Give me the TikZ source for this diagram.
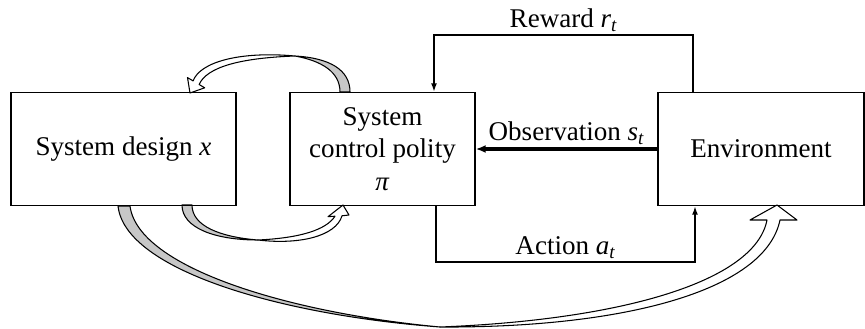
\documentclass[tikz,border=0pt]{standalone}
\usepackage{amsmath}
\usepackage{fontspec}
\setmainfont{Liberation Serif}
\usetikzlibrary{arrows.meta}
\newcommand{\mv}[1]{\textit{#1}}
\tikzstyle{block}=[draw,line width=0.8pt,minimum height=2.26cm,inner sep=2pt,align=center,font=\fontsize{15.4}{18.5}\selectfont]
\tikzstyle{signal}=[draw,line width=1.1pt,-{Latex[length=1.7mm,width=1.2mm]}]
\tikzstyle{thicksignal}=[draw,line width=1.8pt,-{Latex[length=2mm,width=1.6mm]}]
\tikzstyle{sigtext}=[font=\fontsize{15.4}{18.5}\selectfont,inner sep=1.5pt]
\tikzstyle{backface}=[fill=black!22,draw=black,line width=0.6pt,line join=round]
\tikzstyle{frontface}=[fill=white,draw=black,line width=0.6pt,line join=round]

\begin{document}
\begin{tikzpicture}[x=0.02cm,y=-0.02cm]
    \useasboundingbox (0,0) rectangle (865,328);

    % Design loop ribbons first, the blocks go on top
    % policy -> design, over the top
    \draw[backface] (350,92) .. controls (350,70) and (330,58) .. (295,56) .. controls (322,61) and (340,72) .. (340,92) -- cycle;
    \draw[frontface] (295,56) .. controls (240,51) and (200,62) .. (193.1,80.9) -- (187.5,77.6) -- (190,93) -- (204.7,87.8) -- (199.1,84.5) .. controls (207,67) and (240,58) .. (295,56) -- cycle;
    % design -> policy, underneath
    \draw[backface] (182,205) .. controls (182,228) and (215,240) .. (258,240) .. controls (220,237) and (192,226) .. (192,205) -- cycle;
    \draw[frontface] (258,240) .. controls (300,238) and (326,230) .. (335,216.2) -- (328,216.7) -- (343,205) -- (349,215) -- (342,215.8) .. controls (336,236) and (300,245) .. (258,240) -- cycle;
    % design -> environment, the long way round
    \draw[backface] (118,206) .. controls (125,270) and (280,315) .. (440,327) .. controls (290,313) and (138,268) .. (130,206) -- cycle;
    \draw[frontface] (440,327) .. controls (620,320) and (755,282) .. (767,220) -- (750,220) -- (777,205) -- (797,220) -- (780,220) .. controls (765,292) and (620,328) .. (440,327) -- cycle;

    % Then we draw the blocks
    \foreach \pos/\name/\bw/\txt in {{(123.5,149)/design/4.5cm/{System design \mv{x}}}, {(382.5,149)/policy/3.7cm/{System\\control polity\\\mv{π}}}, {(761,149)/env/4.12cm/{Environment}}}
        \node[block,minimum width=\bw] (\name) at \pos {\txt};

    % Corners of the reward and action loops
    \coordinate (rwR) at (693,35);
    \coordinate (rwL) at (434,35);
    \coordinate (acL) at (436,262);
    \coordinate (acR) at (695,262);

    % Connect the blocks with signals
    \draw[signal] (env.north -| rwR) -- (rwR) -- node[sigtext,above] {Reward $\mv{r}_{\mv{t}}$} (rwL) -- (policy.north -| rwL);
    \draw[signal] (policy.south -| acL) -- (acL) -- node[sigtext,above] {Action $\mv{a}_{\mv{t}}$} (acR) -- (env.south -| acR);
    \draw[thicksignal] (env.west) -- node[sigtext,above] {Observation $\mv{s}_{\mv{t}}$} (policy.east);

\end{tikzpicture}
\end{document}
